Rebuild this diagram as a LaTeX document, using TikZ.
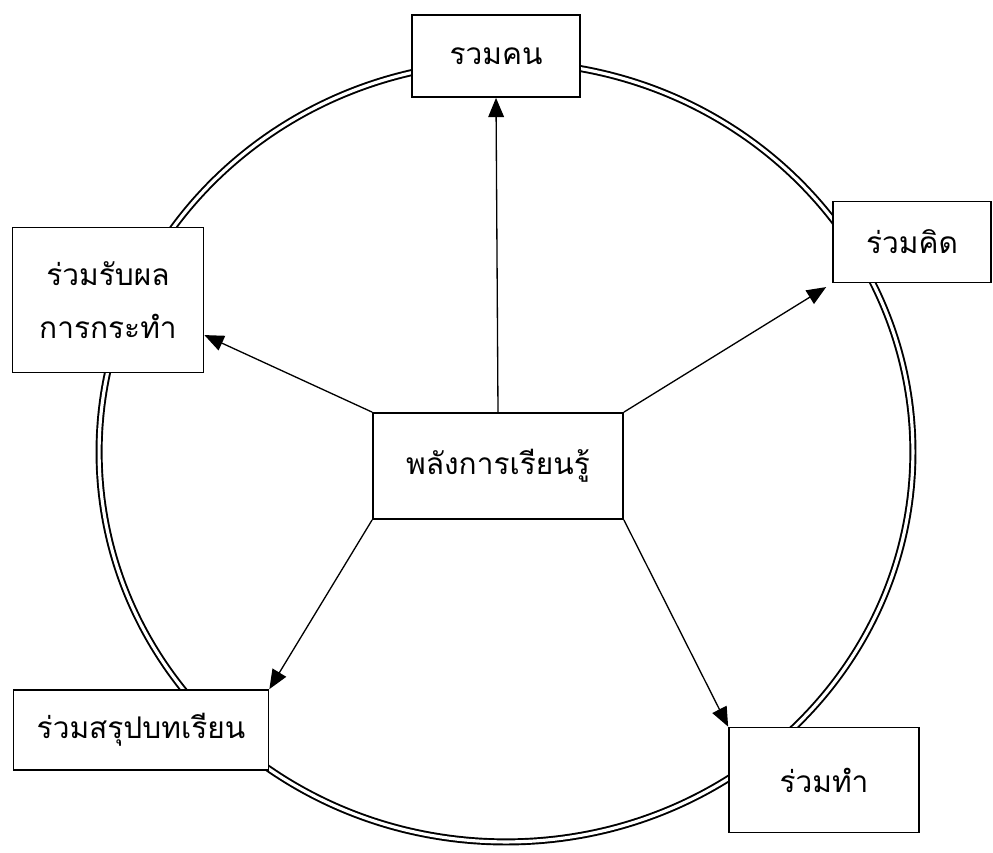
\documentclass[tikz,border=0pt]{standalone}
\usepackage{fontspec}
\newfontfamily\thaifont[Script=Thai]{Loma}
\usepackage{tikz}
\usetikzlibrary{arrows.meta}

\tikzset{
  box/.style={draw=black, line width=1pt, fill=white, rectangle, inner sep=2pt,
    font=\thaifont\fontsize{17}{30}\selectfont, align=center},
  arr/.style={-{Triangle[length=11pt,width=9pt]}, line width=0.75pt},
  ring/.style={draw=black, double, line width=1.1pt, double distance=1.8pt}
}

\begin{document}
\begin{tikzpicture}[x=0.02cm, y=-0.02cm]
	\useasboundingbox (0,0) rectangle (993,852);
	% ring
	\draw [ring] (506,452) ellipse [x radius=8.14cm, y radius=7.8cm];

	% label
	\node [box, minimum width=5.0cm, minimum height=2.12cm] (learn) at (498,466) {พลังการเรียนรู้};
	\node [box, minimum width=3.36cm, minimum height=1.64cm] (people) at (496,56) {รวมคน};
	\node [box, minimum width=3.16cm, minimum height=1.62cm] (think) at (912,242) {ร่วมคิด};
	\node [box, minimum width=3.82cm, minimum height=2.90cm] (result) at (108,300) {ร่วมรับผล\\การกระทำ};
	\node [box, minimum width=5.1cm, minimum height=1.6cm] (sumup) at (141,730) {ร่วมสรุปบทเรียน};
	\node [box, minimum width=3.8cm, minimum height=2.1cm] (doit) at (824,780) {ร่วมทำ};

	% arrows
	\draw [arr] (learn.north) -- (people.south);
	\draw [arr, shorten >=4pt] (learn.north east) -- (think.south west);
	\draw [arr] (learn.north west) -- (result.-20);
	\draw [arr] (learn.south west) -- (sumup.north east);
	\draw [arr] (learn.south east) -- (doit.north west);
\end{tikzpicture}
\end{document}
